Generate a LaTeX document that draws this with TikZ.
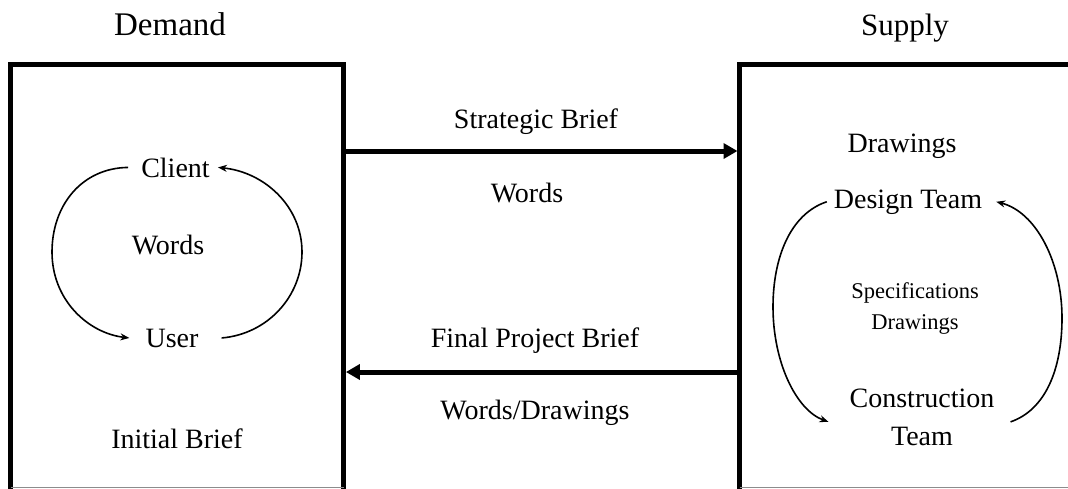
\documentclass[tikz,border=0pt]{standalone}
\usepackage{fontspec}
\setmainfont{Liberation Serif}
\usetikzlibrary{arrows.meta}
\begin{document}
\begin{tikzpicture}[x=1pt,y=-1pt,
  head/.style={font=\fontsize{33}{38}\selectfont, inner sep=0pt, anchor=base},
  lbl/.style={font=\fontsize{28}{38}\selectfont, inner sep=0pt, anchor=base, align=center},
  small/.style={font=\fontsize{22.5}{31}\selectfont, inner sep=0pt, anchor=base, align=center},
  boxarea/.style={inner sep=0pt, anchor=north west},
  frame/.style={line width=5pt, line cap=butt, line join=miter},
  base/.style={draw=black!45, line width=1pt},
  flow/.style={line width=5pt, -{Triangle[length=14pt,width=15pt]}},
  cycle/.style={line width=1.6pt, -{Stealth[length=9pt,width=7pt]}}]
\useasboundingbox (0,0) rectangle (1068,488);

% the two parties
\node[boxarea, minimum width=333pt, minimum height=440pt] (demandbox) at (10.5,64) {};
\node[boxarea, minimum width=340pt, minimum height=440pt] (supplybox) at (739.5,64) {};
\draw[frame] (demandbox.south west) -- (demandbox.north west) -- (demandbox.north east) -- (demandbox.south east);
\draw[frame] (supplybox.south west) -- (supplybox.north west) -- (supplybox.north east);
\draw[base] (10.5,487) -- (343.5,487);
\draw[base] (739.5,487) -- (1068,487);

% headings
\node[head] (demand) at (170,35) {Demand};
\node[head, font=\fontsize{31}{36}\selectfont] (supply) at (905,35) {Supply};

% demand side
\node[lbl] (client) at (175.5,177) {Client};
\node[lbl] (words1) at (168,254) {Words};
\node[lbl] (user) at (172,347) {User};
\node[lbl] (initial) at (177,448) {Initial Brief};

\draw[cycle] ([xshift=-13pt]client.west) .. controls (82,168) and (52,205) .. (52,252)
  .. controls (52,300) and (88,333) .. ([xshift=-16pt]user.west);
\draw[cycle] ([xshift=23pt]user.east) .. controls (268,334) and (302,296) .. (302,252)
  .. controls (302,206) and (264,172) .. ([xshift=8pt]client.east);

% exchange between the parties
\coordinate (upper) at (0,151);
\coordinate (lower) at (0,372);
\node[lbl] (strategic) at (536,128) {Strategic Brief};
\node[lbl] (words2) at (527,202) {Words};
\node[lbl] (final) at (535,347) {Final Project Brief};
\node[lbl] (wordsdraw) at (535,419) {Words/Drawings};
\draw[flow] (demandbox.east |- upper) -- ([xshift=-2pt]supplybox.west |- upper);
\draw[flow] (supplybox.west |- lower) -- ([xshift=2pt]demandbox.east |- lower);

% supply side
\node[lbl] (drawings) at (902,152) {Drawings};
\node[lbl] (design) at (908,208) {Design Team};
\node[small] (spec) at (915,329) {Specifications\\Drawings};
\node[lbl] (construction) at (922,445) {Construction\\Team};

\draw[cycle] ([xshift=-7pt]design.west) .. controls (790,214) and (773,258) .. (773,307)
  .. controls (773,362) and (796,410) .. ([xshift=-21pt,yshift=-5pt]construction.west);
\draw[cycle] ([xshift=16pt,yshift=-5pt]construction.east) .. controls (1045,410) and (1062,370) .. (1062,318)
  .. controls (1062,262) and (1036,212) .. ([xshift=14pt]design.east);
\end{tikzpicture}
\end{document}
